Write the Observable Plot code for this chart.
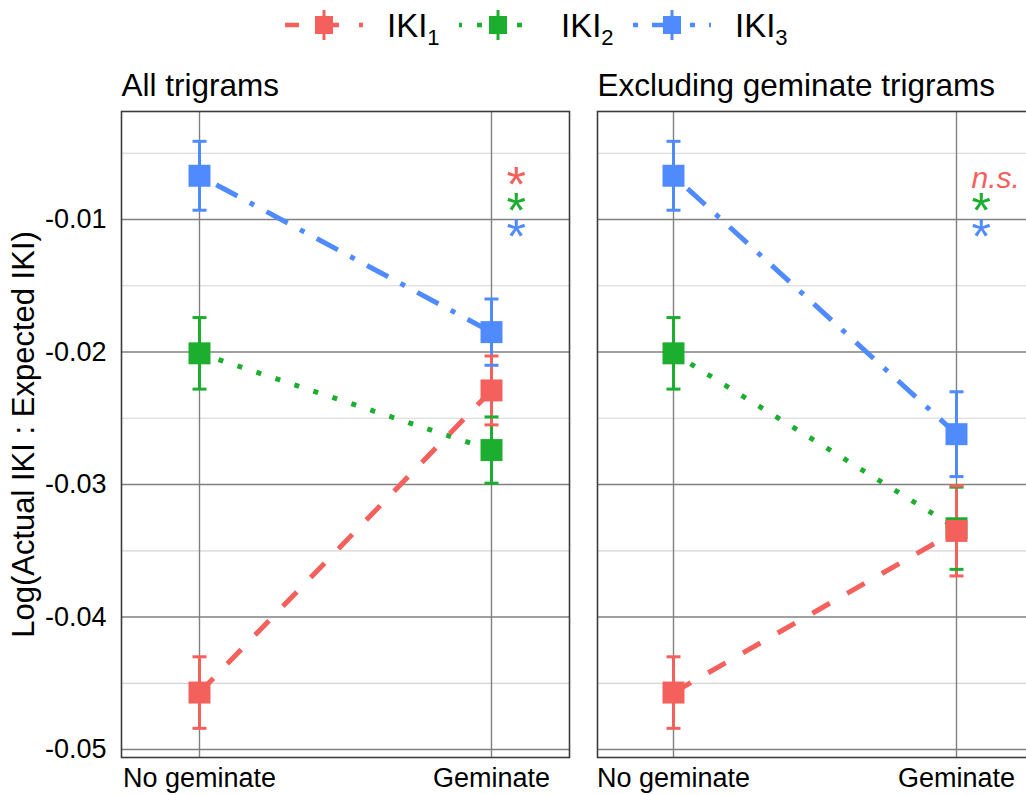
<!DOCTYPE html>
<html><head><meta charset="utf-8">
<script src="https://cdn.jsdelivr.net/npm/d3@7"></script>
<script src="https://cdn.jsdelivr.net/npm/@observablehq/plot@0.6"></script>
<style>
html,body{margin:0;padding:0;background:#fff;overflow:hidden;width:1026px;height:795px;}
body{font-family:"Liberation Sans",Arial,Helvetica,sans-serif;position:relative;color:#000;}
#legend{position:absolute;left:285px;top:0;height:50px;display:flex;}
.item{width:174px;height:50px;display:flex;align-items:center;}
.item .lab{margin-left:24px;font-size:33px;line-height:33px;}
.item .lab sub{font-size:22px;line-height:0;vertical-align:-8px;}
#p1{position:absolute;left:0;top:50px;width:583px;height:745px;}
#p2{position:absolute;left:583px;top:50px;width:449px;height:745px;}
#p1 svg,#p2 svg{max-width:none !important;display:block;}
</style></head><body>
<div id="legend"></div>
<div id="p1"></div><div id="p2"></div>
<script>
// ---- data ----
const conditions = ["No geminate", "Geminate"];
const series = ["IKI1", "IKI2", "IKI3"];
const seriesBase = "IKI";
const seriesSub = ["1", "2", "3"];
const panelTitles = ["All trigrams", "Excluding geminate trigrams"];
const yTitle = "Log(Actual IKI : Expected IKI)";
const yMajorTicks = [-0.01, -0.02, -0.03, -0.04, -0.05];
const yMinorTicks = [-0.005, -0.015, -0.025, -0.035, -0.045];

// All trigrams: means per series [No geminate, Geminate] and standard errors
const allIKI1 = [-0.0457, -0.0229];
const allIKI2 = [-0.0201, -0.0274];
const allIKI3 = [-0.0067, -0.0185];
const allErr1 = [0.0027, 0.0026];
const allErr2 = [0.0027, 0.0025];
const allErr3 = [0.0026, 0.0025];

// Excluding geminate trigrams
const exIKI1 = [-0.0457, -0.0335];
const exIKI2 = [-0.0201, -0.0333];
const exIKI3 = [-0.0067, -0.0262];
const exErr1 = [0.0027, 0.0034];
const exErr2 = [0.0027, 0.0031];
const exErr3 = [0.0026, 0.0032];

// significance labels (Geminate vs No geminate)
const allSig = ["*", "*", "*"];
const exSig = ["n.s.", "*", "*"];
const sigY = [-0.0069, -0.0088, -0.0108];

// ---- styles ----
const colors = ["#F4615D", "#1BAE2F", "#4F8BFF"];
const dashes = ["20,20", "5,15", "5,14,24,14"];
const FONT = '"Liberation Sans", Arial, Helvetica, sans-serif';

// ---- legend ----
const legend = d3.select("#legend");
series.forEach((s, i) => {
  const it = legend.append("div").attr("class", "item");
  const svg = it.append("svg").attr("width", 78).attr("height", 50);
  svg.append("line").attr("x1", 0).attr("x2", 78).attr("y1", 25).attr("y2", 25)
    .attr("stroke", colors[i]).attr("stroke-width", 4.5)
    .attr("stroke-dasharray", dashes[i]).attr("stroke-dashoffset", i === 0 ? 6 : (i === 1 ? 2 : 0));
  svg.append("line").attr("x1", 39).attr("x2", 39).attr("y1", 10).attr("y2", 40)
    .attr("stroke", colors[i]).attr("stroke-width", 3);
  svg.append("rect").attr("x", 30).attr("y", 16).attr("width", 18).attr("height", 18).attr("fill", colors[i]);
  it.append("span").attr("class", "lab").html(seriesBase + "<sub>" + seriesSub[i] + "</sub>");
});

// ---- panels ----
const capSymbol = {draw(ctx) { ctx.moveTo(-7, 0); ctx.lineTo(7, 0); }};

function buildRows(means, errs) {
  const rows = [];
  for (let s = series.length - 1; s >= 0; s--) {
    for (let c = 0; c < conditions.length; c++) {
      const m = means[s][c], e = errs[s][c];
      rows.push({series: series[s], cond: conditions[c], y: m, lo: m - e, hi: m + e});
    }
  }
  return rows;
}

function panel(title, means, errs, sig, first) {
  const rows = buildRows(means, errs);
  const caps = rows.flatMap(d => [{series: d.series, cond: d.cond, v: d.lo}, {series: d.series, cond: d.cond, v: d.hi}]);
  const sigRows = series.map((s, i) => ({series: s, y: sigY[i], label: sig[i]}));
  const marks = [
    Plot.gridY(yMinorTicks, {stroke: "#d4d4d4", strokeOpacity: 1, strokeWidth: 1.2}),
    Plot.gridY(yMajorTicks, {stroke: "#808080", strokeOpacity: 1, strokeWidth: 1.4}),
    Plot.gridX(conditions, {stroke: "#808080", strokeOpacity: 1, strokeWidth: 1.4}),
    Plot.ruleX(rows, {x: "cond", y1: "lo", y2: "hi", stroke: "series", strokeWidth: 3}),
    Plot.dot(caps, {x: "cond", y: "v", stroke: "series", fill: "none", symbol: capSymbol, strokeWidth: 3, r: 7}),
    ...series.map((s, i) => Plot.line(rows.filter(d => d.series === s), {
      x: "cond", y: "y", stroke: colors[i], strokeWidth: 5, strokeDasharray: dashes[i], strokeLinecap: "butt"
    })).reverse(),
    Plot.dot(rows, {x: "cond", y: "y", fill: "series", symbol: "square", r: 12.4}),
    Plot.text(sigRows.filter(d => d.label === "*"), {
      x: () => "Geminate", y: "y", text: "label", fill: "series", dx: 15, dy: 8,
      textAnchor: "start", fontSize: 50, fontFamily: FONT
    }),
    Plot.text(sigRows.filter(d => d.label !== "*"), {
      x: () => "Geminate", y: "y", text: "label", fill: "series", dx: 15, dy: 0,
      textAnchor: "start", fontSize: 30, fontStyle: "italic", fontFamily: FONT
    }),
    Plot.frame({stroke: "#3c3c3c", strokeWidth: 1.6}),
    Plot.text([title], {text: d => d, frameAnchor: "top-left", textAnchor: "start", lineAnchor: "middle", dy: -26, fontSize: 31.5, fill: "#000", fontFamily: FONT}),
    Plot.axisX({tickSize: 0, tickPadding: 10, fontSize: 27, label: null, fill: "#000"})
  ];
  if (first) {
    marks.push(
      Plot.axisY(yMajorTicks, {tickSize: 0, tickPadding: 15, fontSize: 27, label: null, tickFormat: d => d.toFixed(2), fill: "#000"}),
      Plot.text([yTitle], {text: d => d, frameAnchor: "left", textAnchor: "middle", lineAnchor: "middle", rotate: -90, dx: -97, fontSize: 31, fill: "#000", fontFamily: FONT})
    );
  }
  return Plot.plot({
    width: first ? 583 : 449,
    height: 745,
    marginTop: 61,
    marginBottom: 38,
    marginLeft: first ? 121 : 14,
    marginRight: first ? 14 : 0,
    style: {fontFamily: FONT, fontSize: "26px", background: "#fff", overflow: "visible", maxWidth: "none"},
    x: {type: "point", domain: conditions, padding: 0.267, axis: null},
    y: {domain: [-0.0506, -0.00185], axis: null},
    color: {domain: series, range: colors},
    marks
  });
}

document.getElementById("p1").appendChild(
  panel(panelTitles[0], [allIKI1, allIKI2, allIKI3], [allErr1, allErr2, allErr3], allSig, true));
document.getElementById("p2").appendChild(
  panel(panelTitles[1], [exIKI1, exIKI2, exIKI3], [exErr1, exErr2, exErr3], exSig, false));
</script>
</body></html>
